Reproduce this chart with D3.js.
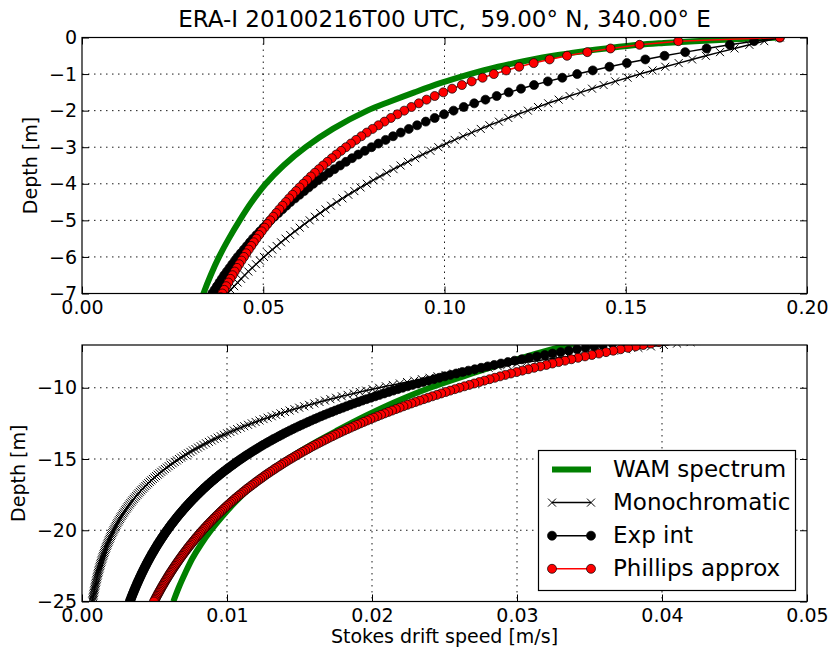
<!DOCTYPE html>
<html><head><meta charset="utf-8">
<script src="https://cdn.jsdelivr.net/npm/d3@7"></script>
<style>
html,body{margin:0;padding:0;background:#fff;}
svg{display:block;}
text{font-family:"DejaVu Sans",sans-serif;}
</style></head><body>
<svg id="chart" width="833" height="655"></svg>
<script>
// ---------------- DATA ----------------
const depth = [
0,-0.1,-0.2,-0.3,-0.4,-0.5,-0.6,-0.7,-0.8,-0.9,
-1,-1.1,-1.2,-1.3,-1.4,-1.5,-1.6,-1.7,-1.8,-1.9,
-2,-2.1,-2.2,-2.3,-2.4,-2.5,-2.6,-2.7,-2.8,-2.9,
-3,-3.1,-3.2,-3.3,-3.4,-3.5,-3.6,-3.7,-3.8,-3.9,
-4,-4.1,-4.2,-4.3,-4.4,-4.5,-4.6,-4.7,-4.8,-4.9,
-5,-5.1,-5.2,-5.3,-5.4,-5.5,-5.6,-5.7,-5.8,-5.9,
-6,-6.1,-6.2,-6.3,-6.4,-6.5,-6.6,-6.7,-6.8,-6.9,
-7,-7.1,-7.2,-7.3,-7.4,-7.5,-7.6,-7.7,-7.8,-7.9,
-8,-8.1,-8.2,-8.3,-8.4,-8.5,-8.6,-8.7,-8.8,-8.9,
-9,-9.1,-9.2,-9.3,-9.4,-9.5,-9.6,-9.7,-9.8,-9.9,
-10,-10.1,-10.2,-10.3,-10.4,-10.5,-10.6,-10.7,-10.8,-10.9,
-11,-11.1,-11.2,-11.3,-11.4,-11.5,-11.6,-11.7,-11.8,-11.9,
-12,-12.1,-12.2,-12.3,-12.4,-12.5,-12.6,-12.7,-12.8,-12.9,
-13,-13.1,-13.2,-13.3,-13.4,-13.5,-13.6,-13.7,-13.8,-13.9,
-14,-14.1,-14.2,-14.3,-14.4,-14.5,-14.6,-14.7,-14.8,-14.9,
-15,-15.1,-15.2,-15.3,-15.4,-15.5,-15.6,-15.7,-15.8,-15.9,
-16,-16.1,-16.2,-16.3,-16.4,-16.5,-16.6,-16.7,-16.8,-16.9,
-17,-17.1,-17.2,-17.3,-17.4,-17.5,-17.6,-17.7,-17.8,-17.9,
-18,-18.1,-18.2,-18.3,-18.4,-18.5,-18.6,-18.7,-18.8,-18.9,
-19,-19.1,-19.2,-19.3,-19.4,-19.5,-19.6,-19.7,-19.8,-19.9,
-20,-20.1,-20.2,-20.3,-20.4,-20.5,-20.6,-20.7,-20.8,-20.9,
-21,-21.1,-21.2,-21.3,-21.4,-21.5,-21.6,-21.7,-21.8,-21.9,
-22,-22.1,-22.2,-22.3,-22.4,-22.5,-22.6,-22.7,-22.8,-22.9,
-23,-23.1,-23.2,-23.3,-23.4,-23.5,-23.6,-23.7,-23.8,-23.9,
-24,-24.1,-24.2,-24.3,-24.4,-24.5,-24.6,-24.7,-24.8,-24.9,
-25];

const monoSpeed = [
0.1925,0.1882,0.1841,0.1800,0.1760,0.1721,0.1683,0.1646,0.1609,0.1574,
0.1539,0.1505,0.1471,0.1439,0.1407,0.1376,0.1345,0.1315,0.1286,0.1258,
0.1230,0.1203,0.1176,0.1150,0.1124,0.1100,0.1075,0.1051,0.1028,0.1005,
0.09831,0.09613,0.09400,0.09192,0.08988,0.08789,0.08595,0.08404,0.08218,0.08036,
0.07858,0.07684,0.07514,0.07347,0.07185,0.07025,0.06870,0.06718,0.06569,0.06423,
0.06281,0.06142,0.06006,0.05873,0.05743,0.05615,0.05491,0.05369,0.05251,0.05134,
0.05020,0.04909,0.04800,0.04694,0.04590,0.04489,0.04389,0.04292,0.04197,0.04104,
0.04013,0.03924,0.03837,0.03752,0.03669,0.03588,0.03508,0.03431,0.03355,0.03280,
0.03208,0.03137,0.03067,0.02999,0.02933,0.02868,0.02804,0.02742,0.02681,0.02622,
0.02564,0.02507,0.02452,0.02397,0.02344,0.02292,0.02242,0.02192,0.02143,0.02096,
0.02049,0.02004,0.01960,0.01916,0.01874,0.01832,0.01792,0.01752,0.01713,0.01675,
0.01638,0.01602,0.01566,0.01532,0.01498,0.01465,0.01432,0.01400,0.01369,0.01339,
0.01309,0.01280,0.01252,0.01224,0.01197,0.01171,0.01145,0.01119,0.01095,0.01070,
0.01047,0.01023,0.01001,0.009786,0.009569,0.009357,0.009150,0.008947,0.008749,0.008555,
0.008365,0.008180,0.007999,0.007822,0.007648,0.007479,0.007313,0.007151,0.006993,0.006838,
0.006687,0.006538,0.006394,0.006252,0.006114,0.005978,0.005846,0.005716,0.005590,0.005466,
0.005345,0.005226,0.005110,0.004997,0.004887,0.004778,0.004673,0.004569,0.004468,0.004369,
0.004272,0.004177,0.004085,0.003994,0.003906,0.003819,0.003735,0.003652,0.003571,0.003492,
0.003415,0.003339,0.003265,0.003193,0.003122,0.003053,0.002985,0.002919,0.002855,0.002791,
0.002730,0.002669,0.002610,0.002552,0.002496,0.002440,0.002386,0.002333,0.002282,0.002231,
0.002182,0.002134,0.002086,0.002040,0.001995,0.001951,0.001907,0.001865,0.001824,0.001784,
0.001744,0.001705,0.001668,0.001631,0.001594,0.001559,0.001525,0.001491,0.001458,0.001426,
0.001394,0.001363,0.001333,0.001303,0.001274,0.001246,0.001219,0.001192,0.001165,0.001139,
0.001114,0.001090,0.001065,0.001042,0.001019,0.000996,0.000974,0.000953,0.000931,0.000911,
0.000891,0.000871,0.000852,0.000833,0.000814,0.000796,0.000779,0.000761,0.000744,0.000728,
0.000712];

const expIntSpeed = [
0.1925,0.1854,0.1787,0.1723,0.1664,0.1607,0.1554,0.1503,0.1455,0.1409,
0.1366,0.1325,0.1285,0.1247,0.1211,0.1177,0.1144,0.1113,0.1082,0.1053,
0.1025,0.09987,0.09730,0.09483,0.09245,0.09015,0.08794,0.08581,0.08376,0.08177,
0.07986,0.07801,0.07622,0.07449,0.07281,0.07119,0.06962,0.06810,0.06663,0.06520,
0.06381,0.06254,0.06127,0.06000,0.05874,0.05747,0.05637,0.05527,0.05417,0.05307,
0.05197,0.05101,0.05005,0.04909,0.04813,0.04717,0.04633,0.04549,0.04464,0.04380,
0.04296,0.04221,0.04146,0.04072,0.03997,0.03923,0.03857,0.03791,0.03724,0.03658,
0.03592,0.03532,0.03473,0.03414,0.03357,0.03301,0.03245,0.03191,0.03137,0.03084,
0.03033,0.02984,0.02937,0.02890,0.02843,0.02798,0.02753,0.02709,0.02665,0.02623,
0.02581,0.02541,0.02502,0.02464,0.02426,0.02389,0.02352,0.02316,0.02280,0.02245,
0.02211,0.02178,0.02146,0.02114,0.02083,0.02052,0.02022,0.01992,0.01962,0.01933,
0.01905,0.01877,0.01851,0.01824,0.01798,0.01772,0.01747,0.01722,0.01697,0.01673,
0.01649,0.01626,0.01604,0.01581,0.01559,0.01538,0.01516,0.01495,0.01474,0.01454,
0.01434,0.01415,0.01395,0.01377,0.01358,0.01340,0.01321,0.01304,0.01286,0.01269,
0.01251,0.01235,0.01219,0.01203,0.01187,0.01171,0.01156,0.01140,0.01125,0.01111,
0.01096,0.01082,0.01068,0.01054,0.01041,0.01027,0.01014,0.01001,0.009879,0.009752,
0.009627,0.009505,0.009385,0.009267,0.009150,0.009035,0.008920,0.008808,0.008696,0.008586,
0.008478,0.008373,0.008270,0.008167,0.008066,0.007967,0.007868,0.007771,0.007674,0.007580,
0.007486,0.007395,0.007306,0.007216,0.007128,0.007042,0.006956,0.006872,0.006788,0.006705,
0.006624,0.006545,0.006467,0.006389,0.006313,0.006237,0.006162,0.006088,0.006016,0.005944,
0.005873,0.005804,0.005736,0.005668,0.005602,0.005535,0.005470,0.005406,0.005342,0.005279,
0.005217,0.005156,0.005097,0.005037,0.004979,0.004921,0.004864,0.004807,0.004752,0.004697,
0.004642,0.004589,0.004536,0.004484,0.004433,0.004382,0.004332,0.004282,0.004233,0.004185,
0.004137,0.004090,0.004044,0.003998,0.003953,0.003908,0.003864,0.003820,0.003777,0.003734,
0.003692,0.003651,0.003610,0.003570,0.003530,0.003490,0.003451,0.003412,0.003374,0.003336,
0.003299];

const phillipsSpeed = [
0.1925,0.1645,0.1538,0.1458,0.1394,0.1338,0.1290,0.1246,0.1206,0.1170,
0.1136,0.1105,0.1075,0.1048,0.1021,0.09966,0.09730,0.09505,0.09291,0.09086,
0.08889,0.08700,0.08520,0.08344,0.08178,0.08014,0.07856,0.07706,0.07559,0.07417,
0.07280,0.07146,0.07016,0.06891,0.06769,0.06650,0.06535,0.06422,0.06313,0.06206,
0.06103,0.06002,0.05903,0.05806,0.05713,0.05621,0.05531,0.05444,0.05358,0.05275,
0.05193,0.05113,0.05035,0.04958,0.04883,0.04810,0.04738,0.04668,0.04599,0.04531,
0.04466,0.04400,0.04337,0.04275,0.04213,0.04154,0.04094,0.04037,0.03980,0.03924,
0.03870,0.03818,0.03766,0.03714,0.03664,0.03614,0.03565,0.03516,0.03469,0.03421,
0.03375,0.03331,0.03287,0.03244,0.03202,0.03160,0.03118,0.03077,0.03037,0.02997,
0.02958,0.02920,0.02883,0.02847,0.02811,0.02775,0.02740,0.02705,0.02671,0.02637,
0.02603,0.02571,0.02539,0.02508,0.02477,0.02447,0.02416,0.02386,0.02357,0.02328,
0.02299,0.02272,0.02244,0.02217,0.02190,0.02164,0.02138,0.02112,0.02087,0.02062,
0.02037,0.02013,0.01989,0.01966,0.01942,0.01920,0.01897,0.01875,0.01853,0.01831,
0.01809,0.01788,0.01768,0.01747,0.01727,0.01707,0.01687,0.01668,0.01649,0.01630,
0.01611,0.01592,0.01574,0.01557,0.01539,0.01521,0.01504,0.01487,0.01470,0.01454,
0.01437,0.01421,0.01405,0.01389,0.01374,0.01359,0.01343,0.01328,0.01314,0.01299,
0.01284,0.01270,0.01256,0.01243,0.01229,0.01215,0.01202,0.01189,0.01176,0.01163,
0.01150,0.01137,0.01125,0.01113,0.01101,0.01089,0.01077,0.01065,0.01054,0.01042,
0.01031,0.01020,0.01009,0.009983,0.009876,0.009770,0.009665,0.009561,0.009459,0.009357,
0.009257,0.009159,0.009062,0.008966,0.008871,0.008777,0.008684,0.008592,0.008501,0.008411,
0.008322,0.008235,0.008149,0.008063,0.007979,0.007895,0.007813,0.007731,0.007650,0.007570,
0.007490,0.007413,0.007336,0.007260,0.007185,0.007110,0.007037,0.006964,0.006892,0.006820,
0.006749,0.006680,0.006612,0.006544,0.006476,0.006410,0.006344,0.006279,0.006214,0.006150,
0.006087,0.006025,0.005964,0.005903,0.005843,0.005784,0.005725,0.005667,0.005609,0.005552,
0.005496,0.005440,0.005385,0.005331,0.005277,0.005224,0.005171,0.005119,0.005067,0.005016,
0.004966];

const wamDepth = [0,-0.05,-0.1,-0.15,-0.2,-0.3,-0.4,-0.5,-0.6,-0.7,-0.8,-0.9,-1,-1.25,-1.5,-1.75,-2,-2.5,-3,-3.5,-4,-4.5,-5,-5.5,-6,-6.5,-7,-8,-9,-10,-11,-12,-13,-14,-15,-16,-17,-18,-19,-20,-21,-22,-23,-24,-25];
const wamSpeed = [0.1925,0.180,0.169,0.1605,0.1535,0.1445,0.1365,0.1300,0.1243,0.1193,0.1148,0.1107,0.1070,0.0988,0.0917,0.0850,0.0787,0.0692,0.0617,0.0556,0.0507,0.0468,0.0435,0.0405,0.0378,0.0355,0.0335,0.0300,0.0269,0.0240,0.0216,0.0195,0.0176,0.0158,0.0142,0.0128,0.0116,0.0106,0.0097,0.0089,0.0082,0.0076,0.00712,0.00668,0.0063];

const xTicksTop = [0, 0.05, 0.10, 0.15, 0.20];
const yTicksTop = [0, -1, -2, -3, -4, -5, -6, -7];
const xTicksBottom = [0, 0.01, 0.02, 0.03, 0.04, 0.05];
const yTicksBottom = [-10, -15, -20, -25];
const seriesNames = ["WAM spectrum", "Monochromatic", "Exp int", "Phillips approx"];
const titleText = "ERA-I 20100216T00 UTC,  59.00\u00B0 N, 340.00\u00B0 E";
const yLabelText = "Depth [m]";
const xLabelText = "Stokes drift speed [m/s]";

// ---------------- DRAW ----------------
const FONT = "DejaVu Sans";
const svg = d3.select("#chart");
svg.append("rect").attr("width", 833).attr("height", 655).attr("fill", "#fff");
const defs = svg.append("defs");

const GREEN = "#008000", RED = "#ff0000";
const series = [
  {name: seriesNames[1], v: monoSpeed, color: "#000", marker: "x"},
  {name: seriesNames[2], v: expIntSpeed, color: "#000", marker: "o", fill: "#000"},
  {name: seriesNames[3], v: phillipsSpeed, color: RED, marker: "o", fill: RED}
];
const xPath = "M-4,-4L4,4M-4,4L4,-4";

function drawMarker(sel, kind, fill) {
  if (kind === "x") {
    return sel.append("path").attr("d", xPath).attr("fill", "none").attr("stroke", "#000").attr("stroke-width", 1);
  }
  return sel.append("circle").attr("r", 4.5).attr("fill", fill).attr("stroke", "#000").attr("stroke-width", 0.7);
}

const panels = [
  {id: "top", xDomain: [0, 0.2], yDomain: [-7, 0], left: 82, right: 807, top: 37.5, bottom: 293.5,
   xTicks: xTicksTop, yTicks: yTicksTop, ylx: 37},
  {id: "bot", xDomain: [0, 0.05], yDomain: [-25, -7], left: 82, right: 807, top: 345, bottom: 601.5,
   xTicks: xTicksBottom, yTicks: yTicksBottom, ylx: 25}
];

panels.forEach(p => {
  const x = d3.scaleLinear().domain(p.xDomain).range([p.left, p.right]);
  const y = d3.scaleLinear().domain(p.yDomain).range([p.bottom, p.top]);
  const g = svg.append("g");
  const clipId = "clip-" + p.id;
  defs.append("clipPath").attr("id", clipId).append("rect")
    .attr("x", p.left).attr("y", p.top).attr("width", p.right - p.left).attr("height", p.bottom - p.top);

  // grid
  const grid = g.append("g").attr("stroke", "#000").attr("stroke-width", 0.9)
    .attr("stroke-dasharray", "1.5,4.5").attr("fill", "none");
  p.xTicks.filter(v => v > p.xDomain[0] + 1e-9 && v < p.xDomain[1] - 1e-9).forEach(v => {
    grid.append("line").attr("x1", x(v)).attr("x2", x(v)).attr("y1", p.top).attr("y2", p.bottom);
  });
  p.yTicks.filter(v => v > p.yDomain[0] + 1e-9 && v < p.yDomain[1] - 1e-9).forEach(v => {
    grid.append("line").attr("x1", p.left).attr("x2", p.right).attr("y1", y(v)).attr("y2", y(v));
  });

  // data
  const plot = g.append("g").attr("clip-path", `url(#${clipId})`);
  const wam = wamDepth.map((d, i) => [wamSpeed[i], d]);
  plot.append("path").datum(wam)
    .attr("d", d3.line().x(d => x(d[0])).y(d => y(d[1])).curve(d3.curveCatmullRom.alpha(0.5)))
    .attr("fill", "none").attr("stroke", GREEN).attr("stroke-width", 6).attr("stroke-linejoin", "round");

  series.forEach(s => {
    const pts = depth.map((d, i) => [s.v[i], d]);
    plot.append("path").datum(pts)
      .attr("d", d3.line().x(d => x(d[0])).y(d => y(d[1])))
      .attr("fill", "none").attr("stroke", s.color).attr("stroke-width", 1.5);
    const mg = plot.append("g");
    pts.filter(d => y(d[1]) > p.top - 8 && y(d[1]) < p.bottom + 8).forEach(d => {
      const m = mg.append("g").attr("transform", `translate(${x(d[0])},${y(d[1])})`);
      drawMarker(m, s.marker, s.fill);
    });
  });

  // axes (ticks inward)
  const styleAxis = a => { a.select(".domain").remove(); a.attr("font-family", FONT).attr("font-size", 19);
    a.selectAll(".tick line").attr("stroke", "#000").attr("stroke-width", 1);
    a.selectAll(".tick text").attr("fill", "#000"); };
  g.append("g").attr("transform", `translate(0,${p.bottom})`)
    .call(d3.axisBottom(x).tickValues(p.xTicks).tickFormat(d3.format(".2f")).tickSizeInner(-7).tickSizeOuter(0).tickPadding(7))
    .call(styleAxis);
  g.append("g").attr("transform", `translate(0,${p.top})`)
    .call(d3.axisTop(x).tickValues(p.xTicks).tickFormat(() => "").tickSizeInner(-7).tickSizeOuter(0))
    .call(styleAxis);
  g.append("g").attr("transform", `translate(${p.left},0)`)
    .call(d3.axisLeft(y).tickValues(p.yTicks).tickFormat(d3.format("d")).tickSizeInner(-7).tickSizeOuter(0).tickPadding(5))
    .call(styleAxis);
  g.append("g").attr("transform", `translate(${p.right},0)`)
    .call(d3.axisRight(y).tickValues(p.yTicks).tickFormat(() => "").tickSizeInner(-7).tickSizeOuter(0))
    .call(styleAxis);

  // frame
  g.append("rect").attr("x", p.left).attr("y", p.top).attr("width", p.right - p.left).attr("height", p.bottom - p.top)
    .attr("fill", "none").attr("stroke", "#000").attr("stroke-width", 1.2);

  // y label
  g.append("text").attr("transform", `translate(${p.ylx},${(p.top + p.bottom) / 2}) rotate(-90)`)
    .attr("text-anchor", "middle").attr("font-family", FONT).attr("font-size", 19).attr("fill", "#000")
    .text(yLabelText);
});

// title & x label
svg.append("text").attr("x", 444.5).attr("y", 27).attr("text-anchor", "middle")
  .attr("font-family", FONT).attr("font-size", 23).attr("fill", "#000")
  .style("white-space", "pre").text(titleText);
svg.append("text").attr("x", 444.5).attr("y", 643).attr("text-anchor", "middle")
  .attr("font-family", FONT).attr("font-size", 19).attr("fill", "#000").text(xLabelText);

// legend
const lg = svg.append("g");
lg.append("rect").attr("x", 538.5).attr("y", 450.5).attr("width", 257).attr("height", 140)
  .attr("fill", "#fff").attr("stroke", "#000").attr("stroke-width", 1.2);
const legendItems = [
  {name: seriesNames[0], color: GREEN, width: 6, marker: null},
  {name: seriesNames[1], color: "#000", width: 1.5, marker: "x"},
  {name: seriesNames[2], color: "#000", width: 1.5, marker: "o", fill: "#000"},
  {name: seriesNames[3], color: RED, width: 1.5, marker: "o", fill: RED}
];
legendItems.forEach((it, i) => {
  const cy = 469.5 + i * 33.1;
  lg.append("line").attr("x1", 552).attr("x2", 591).attr("y1", cy).attr("y2", cy)
    .attr("stroke", it.color).attr("stroke-width", it.width);
  if (it.marker) {
    [552, 591].forEach(mx => {
      const m = lg.append("g").attr("transform", `translate(${mx},${cy})`);
      drawMarker(m, it.marker, it.fill);
    });
  }
  lg.append("text").attr("x", 613).attr("y", cy + 7.5).attr("font-family", FONT).attr("font-size", 23)
    .attr("fill", "#000").text(it.name);
});
</script>
</body></html>
